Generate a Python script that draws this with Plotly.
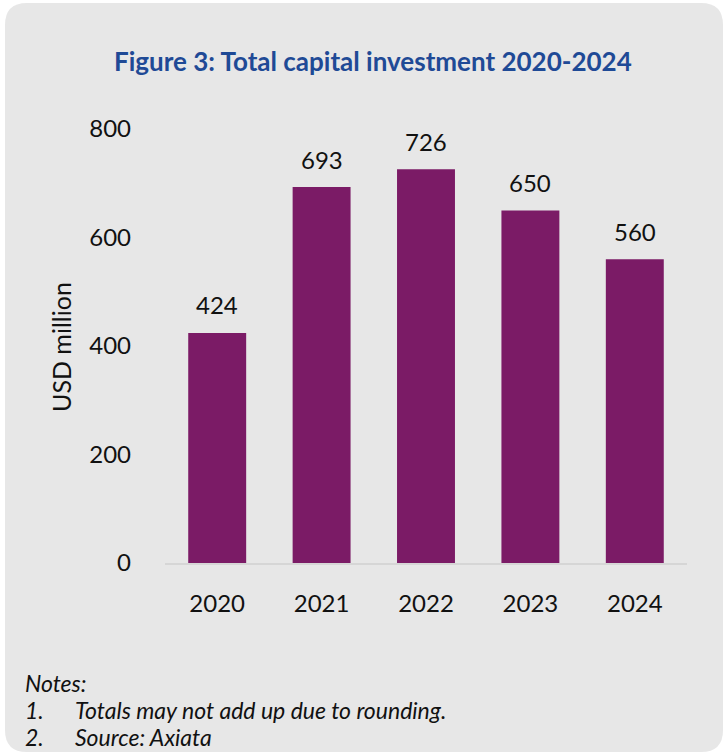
import plotly.graph_objects as go

# Data
years = ["2020", "2021", "2022", "2023", "2024"]
investment = [424, 693, 726, 650, 560]
y_ticks = [0, 200, 400, 600, 800]

title_text = "Figure 3: Total capital investment 2020-2024"
y_title = "USD million"
notes_header = "Notes:"
note_numbers = ["1.", "2."]
note_texts = ["Totals may not add up due to rounding.", "Source: Axiata"]

W, H = 727, 755
BAR_COLOR = "#7B1B66"
PANEL_COLOR = "#E7E7E7"
TITLE_COLOR = "#1F4A96"
FONT = "Lato, 'Open Sans', sans-serif"


def px_x(x):
    return x / W


def px_y(y):
    return 1 - y / H


def rounded_rect(x0, y0, x1, y1, r):
    """SVG path (paper coords) for a rounded rectangle given pixel bounds."""
    rx, ry = r / W, r / H
    X0, X1 = px_x(x0), px_x(x1)
    Yt, Yb = px_y(y0), px_y(y1)
    return (
        f"M {X0 + rx},{Yt} L {X1 - rx},{Yt} Q {X1},{Yt} {X1},{Yt - ry} "
        f"L {X1},{Yb + ry} Q {X1},{Yb} {X1 - rx},{Yb} "
        f"L {X0 + rx},{Yb} Q {X0},{Yb} {X0},{Yb + ry} "
        f"L {X0},{Yt - ry} Q {X0},{Yt} {X0 + rx},{Yt} Z"
    )


fig = go.Figure(
    go.Bar(
        x=years,
        y=investment,
        marker=dict(color=BAR_COLOR, line=dict(width=0)),
        hoverinfo="x+y",
    )
)

# Value labels above each bar (x given as category index)
annotations = [
    dict(
        x=i, y=v, xref="x", yref="y", text=str(v), showarrow=False,
        yanchor="middle", yshift=28, font=dict(family=FONT, size=24, color="#111111"),
    )
    for i, v in enumerate(investment)
]

# Chart title
annotations.append(dict(
    x=px_x(373), y=px_y(61), xref="paper", yref="paper", text=f"<b>{title_text}</b>",
    showarrow=False, xanchor="center", yanchor="middle",
    font=dict(family=FONT, size=26, color=TITLE_COLOR),
))

# Y-axis title
annotations.append(dict(
    x=px_x(61), y=px_y(347), xref="paper", yref="paper", text=y_title,
    showarrow=False, textangle=-90, xanchor="center", yanchor="middle",
    font=dict(family=FONT, size=25, color="#111111"),
))

# Notes block
NOTE_FONT = dict(family=FONT, size=23, color="#111111")
annotations.append(dict(
    x=px_x(23), y=px_y(683), xref="paper", yref="paper", text=f"<i>{notes_header}</i>",
    showarrow=False, xanchor="left", yanchor="middle", font=NOTE_FONT,
))
for i, (num, txt) in enumerate(zip(note_numbers, note_texts)):
    yy = 710 + 27 * i
    annotations.append(dict(
        x=px_x(23), y=px_y(yy), xref="paper", yref="paper", text=f"<i>{num}</i>",
        showarrow=False, xanchor="left", yanchor="middle", font=NOTE_FONT,
    ))
    annotations.append(dict(
        x=px_x(73), y=px_y(yy), xref="paper", yref="paper", text=f"<i>{txt}</i>",
        showarrow=False, xanchor="left", yanchor="middle", font=NOTE_FONT,
    ))

fig.update_layout(
    width=W,
    height=H,
    margin=dict(l=0, r=0, t=0, b=0),
    paper_bgcolor="white",
    plot_bgcolor="rgba(0,0,0,0)",
    showlegend=False,
    bargap=0.445,
    font=dict(family=FONT, size=24, color="#111111"),
    shapes=[dict(
        type="path", xref="paper", yref="paper", layer="below",
        path=rounded_rect(5, 3, 723, 752, 22),
        fillcolor=PANEL_COLOR, line=dict(width=0),
    )],
    annotations=annotations,
    xaxis=dict(
        domain=[px_x(165), px_x(687)],
        type="category",
        range=[-0.5, len(years) - 0.5],
        showgrid=False,
        showline=True,
        linecolor="#D6D6D6",
        linewidth=2,
        ticks="",
        ticklabelstandoff=18,
        tickfont=dict(family=FONT, size=24, color="#111111"),
        automargin=False,
        fixedrange=True,
    ),
    yaxis=dict(
        domain=[px_y(563), px_y(129)],
        range=[0, 800],
        tickvals=y_ticks,
        ticktext=[str(t) for t in y_ticks],
        showgrid=False,
        zeroline=False,
        showline=False,
        ticks="",
        ticklabelstandoff=33,
        tickfont=dict(family=FONT, size=24, color="#111111"),
        automargin=False,
        fixedrange=True,
    ),
)

fig.write_html("out.html")
